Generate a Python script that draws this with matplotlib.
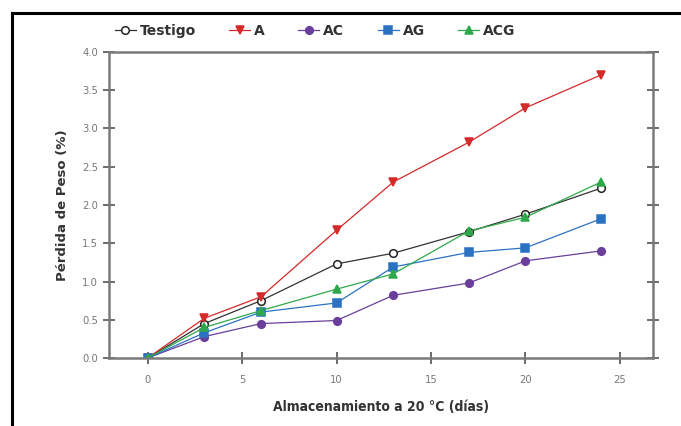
import matplotlib
matplotlib.use("Agg")
from matplotlib import pyplot as plt
from matplotlib.lines import Line2D

# perdida de peso durante almacenamiento a 20 C

dias = [0, 3, 6, 10, 13, 17, 20, 24]
testigo = [0.0, 0.45, 0.75, 1.23, 1.37, 1.65, 1.88, 2.22]
a = [0.0, 0.52, 0.80, 1.67, 2.30, 2.82, 3.27, 3.70]
ac = [0.0, 0.28, 0.45, 0.49, 0.82, 0.98, 1.27, 1.40]
ag = [0.0, 0.33, 0.60, 0.72, 1.19, 1.38, 1.44, 1.82]
acg = [0.0, 0.40, 0.62, 0.90, 1.10, 1.66, 1.84, 2.30]

x_ticks = [0, 5, 10, 15, 20, 25]
y_ticks = [0.0, 0.5, 1.0, 1.5, 2.0, 2.5, 3.0, 3.5, 4.0]

plt.rcParams['font.family'] = ['DejaVu Sans']
plt.rcParams['font.stretch'] = 'condensed'

fig = plt.figure(figsize=(6.81, 4.26), dpi=100)
ax = fig.add_axes([0.1600, 0.1596, 0.7989, 0.7184])

series = [
    ('Testigo', testigo, 'o', '#222222', 'white'),
    ('A', a, 'v', '#d42a2a', '#d42a2a'),
    ('AC', ac, 'o', '#6a3f9c', '#6a3f9c'),
    ('AG', ag, 's', '#2c72c2', '#2c72c2'),
    ('ACG', acg, '^', '#2ea84a', '#2ea84a'),
]
for name, vals, mk, col, face in series:
    line_col = '#333333' if name == 'Testigo' else col
    ax.plot(dias, vals, color=line_col, lw=0.9, marker=mk, ms=5.5,
            mfc=face, mec=col, mew=1.1, label=name)

ax.set_xlim(-2.05, 26.75)
ax.set_ylim(0, 4.0)
ax.set_xticks(x_ticks)
ax.set_yticks(y_ticks)
ax.set_yticklabels(['%.1f' % v for v in y_ticks])

for s in ax.spines.values():
    s.set_color('#7a7a7a')
    s.set_linewidth(1.8)
ax.tick_params(direction='inout', length=8, width=1.1, color='#444444',
               labelsize=8, labelcolor='#777777', right=True)
ax.tick_params(axis='x', pad=8)
ax.tick_params(axis='y', pad=4)

ax.set_xlabel('Almacenamiento a 20 °C (días)', fontsize=10, fontweight='bold',
              color='#333333', labelpad=11)
ax.set_ylabel('Pérdida de Peso (%)', fontsize=9.5, fontweight='bold',
              fontstretch='normal', color='#333333', labelpad=9)

leg = ax.legend(ncol=5, loc='lower left', bbox_to_anchor=(-0.015, 1.0), frameon=False,
                handlelength=1.5, handletextpad=0.3, columnspacing=2.4,
                prop={'weight': 'bold', 'size': 10, 'stretch': 'normal'},
                borderaxespad=0.6)
for t in leg.get_texts():
    t.set_color('#333333')

# frame lines of the original box (top and left)
fig.add_artist(Line2D([0.0176, 1.0], [0.9695, 0.9695], transform=fig.transFigure,
                      color='black', lw=2.2))
fig.add_artist(Line2D([0.0176, 0.0176], [0.0, 0.9695], transform=fig.transFigure,
                      color='black', lw=2.2))

fig.savefig('out.png', dpi=100)
